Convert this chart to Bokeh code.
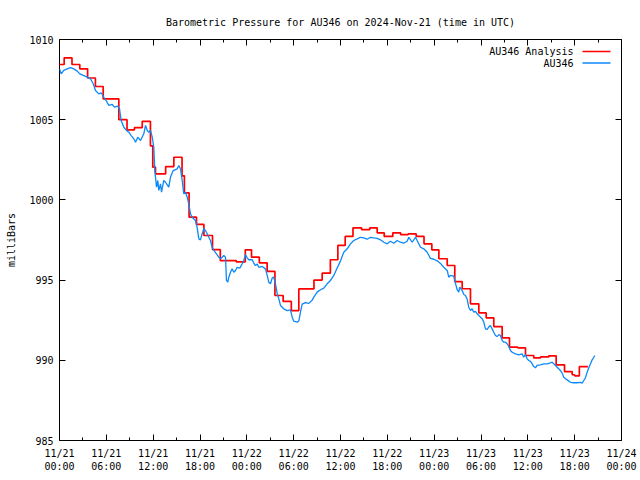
from bokeh.plotting import figure
from bokeh.models import Range1d, LinearAxis, FixedTicker, Label, Arrow
from bokeh.embed import file_html
from bokeh.resources import INLINE

FONT = "DejaVu Sans Mono"
TITLE = "Barometric Pressure for AU346 on 2024-Nov-21 (time in UTC)"

# x ticks: hours since 2024-11-21 00:00 UTC
x_ticks = [0, 6, 12, 18, 24, 30, 36, 42, 48, 54, 60, 66, 72]
x_minor = [3, 9, 15, 21, 27, 33, 39, 45, 51, 57, 63, 69]
x_tick_labels = ["11/21\n00:00", "11/21\n06:00", "11/21\n12:00", "11/21\n18:00",
                 "11/22\n00:00", "11/22\n06:00", "11/22\n12:00", "11/22\n18:00",
                 "11/23\n00:00", "11/23\n06:00", "11/23\n12:00", "11/23\n18:00",
                 "11/24\n00:00"]
y_ticks = [985, 990, 995, 1000, 1005, 1010]

# AU346 Analysis (step values, hours since 11/21 00:00)
ana_hours = [-0.4, 0.6, 1.6, 2.6, 3.6, 4.6, 5.6, 6.6, 7.6, 8.65, 9.6, 10.6, 11.65,
             11.95, 12.3, 13.6, 14.65, 15.7, 16.0, 16.6, 17.55, 18.5, 19.6, 20.6,
             21.6, 22.65, 23.8, 24.6, 25.6, 26.6, 27.6, 28.65, 29.7, 30.66, 31.6,
             32.6, 33.65, 34.7, 35.66, 36.6, 37.6, 38.7, 39.75, 40.7, 41.6, 42.7,
             43.7, 44.67, 45.7, 46.7, 47.7, 48.6, 49.67, 50.64, 51.59, 52.65, 53.72,
             54.66, 55.64, 56.71, 57.65, 58.71, 59.7, 60.76, 61.62, 62.68, 63.63,
             64.7, 65.68, 66.0, 66.6, 67.7]
ana_mb = [1008.44, 1008.86, 1008.44, 1008.17, 1007.6, 1007.07, 1006.3, 1006.3, 1005.0,
          1004.37, 1004.5, 1004.9, 1003.37, 1002.04, 1001.62, 1002.08, 1002.66, 1001.5,
          1000.44, 998.92, 998.47, 997.78, 996.9, 996.22, 996.22, 996.14, 996.89,
          996.43, 996.08, 995.54, 994.04, 993.67, 993.1, 994.45, 994.45, 995.0,
          995.43, 996.27, 997.16, 997.72, 998.26, 998.15, 998.26, 997.95, 997.72,
          997.95, 997.84, 997.88, 997.72, 997.26, 996.89, 996.33, 995.91, 994.91,
          994.46, 993.52, 992.96, 992.65, 992.1, 991.4, 990.82, 990.78, 990.3,
          990.15, 990.21, 990.28, 989.72, 989.3, 989.1, 989.03, 989.6, 989.6]

# AU346 observations
obs_hours = [0.0, 0.22, 0.55, 0.99, 1.41, 1.83, 2.27, 2.6, 3.04, 3.55, 3.97, 4.32,
             4.61, 5.03, 5.34, 5.68, 6.02, 6.32, 6.75, 7.05, 7.47, 7.69, 7.9, 8.24,
             8.58, 8.88, 9.19, 9.52, 9.74, 10.03, 10.38, 10.8, 11.02, 11.24, 11.44,
             11.66, 11.88, 12.08, 12.21, 12.43, 12.59, 12.72, 12.94, 13.07, 13.36,
             13.58, 14.0, 14.22, 14.57, 15.08, 15.28, 15.5, 15.72, 15.92, 16.14,
             16.36, 16.56, 16.78, 17.0, 17.42, 17.64, 17.85, 18.06, 18.28, 18.49,
             18.7, 18.92, 19.13, 19.34, 19.56, 19.77, 20.11, 20.41, 20.63, 20.84,
             21.05, 21.27, 21.39, 21.56, 21.69, 21.91, 22.12, 22.33, 22.55, 22.76,
             23.1, 23.41, 23.61, 23.83, 24.05, 24.25, 24.69, 24.89, 25.11, 25.33,
             25.53, 25.97, 26.39, 26.61, 26.81, 27.03, 27.25, 27.45, 27.67, 27.89,
             28.1, 28.31, 28.53, 28.73, 29.17, 29.59, 29.81, 30.02, 30.45, 30.66,
             30.87, 31.09, 31.52, 31.94, 32.37, 32.58, 33.01, 33.44, 33.86, 34.29,
             34.72, 35.14, 35.57, 36.0, 36.42, 36.86, 37.28, 37.7, 38.14, 38.56,
             38.98, 39.42, 39.84, 40.26, 40.7, 41.12, 41.55, 41.98, 42.4, 42.83,
             43.26, 43.68, 44.11, 44.54, 44.75, 45.18, 45.61, 45.82, 46.25, 46.67,
             47.1, 47.53, 47.95, 48.39, 48.81, 49.23, 49.67, 49.87, 50.09, 50.51,
             50.73, 50.95, 51.15, 51.28, 51.59, 51.8, 52.01, 52.23, 52.43, 52.65,
             52.86, 53.07, 53.29, 53.51, 53.93, 54.15, 54.36, 54.57, 54.79, 54.99,
             55.21, 55.43, 55.64, 55.85, 56.07, 56.28, 56.49, 56.71, 56.92, 57.13,
             57.35, 57.56, 57.77, 57.99, 58.41, 58.84, 59.27, 59.48, 59.7, 59.91,
             60.12, 60.34, 60.56, 60.76, 60.98, 61.19, 61.62, 62.04, 62.48, 62.9,
             63.12, 63.32, 63.54, 63.76, 64.18, 64.4, 64.6, 64.82, 65.04, 65.46,
             65.89, 66.32, 66.74, 66.96, 67.17, 67.38, 67.6, 67.81, 68.03, 68.24,
             68.45, 68.58]
obs_mb = [1008.17, 1007.86, 1008.07, 1008.17, 1008.24, 1008.17, 1008.03, 1007.86,
          1007.76, 1007.65, 1007.55, 1007.24, 1006.82, 1006.61, 1006.68, 1006.4,
          1006.15, 1005.89, 1005.95, 1005.78, 1005.84, 1005.68, 1004.95, 1004.53,
          1004.33, 1004.22, 1004.01, 1003.81, 1003.6, 1003.91, 1003.7, 1004.12,
          1004.64, 1004.33, 1004.22, 1004.33, 1003.91, 1003.29, 1001.83, 1000.79,
          1001.21, 1000.59, 1001.0, 1000.48, 1001.21, 1001.1, 1000.79, 1001.42,
          1001.83, 1001.94, 1002.14, 1001.94, 1001.21, 1000.38, 1000.48, 1000.17,
          999.76, 999.13, 998.92, 998.72, 998.26, 997.57, 997.51, 997.89, 998.2,
          998.09, 997.89, 997.67, 997.47, 997.05, 996.85, 996.64, 996.43, 996.33,
          996.43, 996.53, 996.43, 994.98, 994.87, 995.18, 995.49, 995.7, 995.49,
          995.6, 995.8, 995.75, 996.02, 996.22, 996.58, 996.39, 996.27, 996.27,
          996.06, 995.91, 996.0, 995.8, 995.85, 995.7, 995.29, 994.87, 994.77,
          995.14, 995.18, 994.77, 994.15, 993.83, 993.42, 993.31, 993.21, 993.1,
          993.15, 992.69, 992.44, 992.38, 992.45, 993.0, 993.5, 993.6, 993.55,
          993.75, 993.94, 994.25, 994.4, 994.5, 994.77, 994.98, 995.29, 995.75,
          996.2, 996.74, 996.95, 997.26, 997.47, 997.57, 997.67, 997.63, 997.55,
          997.67, 997.63, 997.6, 997.51, 997.36, 997.26, 997.42, 997.3, 997.47,
          997.36, 997.3, 997.42, 997.67, 997.36, 997.67, 997.47, 997.05, 996.95,
          996.74, 996.35, 996.3, 996.2, 996.04, 995.8, 995.6, 995.18, 995.29,
          995.25, 994.8, 994.4, 994.25, 994.56, 994.35, 994.1, 994.04, 993.8,
          993.31, 993.1, 993.21, 993.0, 993.05, 992.9, 992.69, 992.59, 992.38,
          991.96, 991.93, 992.07, 992.17, 991.96, 991.75, 991.55, 991.48, 991.6,
          991.55, 991.23, 991.13, 991.13, 991.03, 990.86, 990.61, 990.5, 990.4,
          990.34, 990.4, 990.19, 990.36, 990.09, 989.99, 989.93, 989.78, 989.61,
          989.53, 989.68, 989.72, 989.78, 989.78, 989.84, 989.88, 989.78, 989.68,
          989.57, 989.36, 989.2, 988.95, 988.85, 988.78, 988.63, 988.6, 988.6,
          988.62, 988.58, 988.74, 988.91, 989.26, 989.53, 989.78, 990.03, 990.19,
          990.3]

RED = "#ff0000"
BLUE = "#0c88f8"

p = figure(width=640, height=480, output_backend="svg", toolbar_location=None,
           x_range=Range1d(0, 72), y_range=Range1d(985, 1010), title=TITLE,
           min_border_left=59, min_border_right=19, min_border_top=39,
           min_border_bottom=40)
p.background_fill_color = "white"
p.border_fill_color = "white"
p.outline_line_color = "black"
p.outline_line_width = 1
p.grid.visible = False

p.title.text_font = FONT
p.title.text_font_size = "10px"
p.title.text_font_style = "normal"
p.title.text_color = "black"
p.title.align = "center"
p.title.standoff = 23

p.step(ana_hours, ana_mb, mode="after", line_color=RED, line_width=1.7)
p.line(obs_hours, obs_mb, line_color=BLUE, line_width=1.3)

def style(ax, labels=True):
    ax.axis_line_color = None
    ax.major_tick_in = 6
    ax.major_tick_out = 0
    ax.minor_tick_in = 3
    ax.minor_tick_out = 0
    ax.major_tick_line_color = "black"
    ax.minor_tick_line_color = "black"
    ax.major_label_text_font = FONT
    ax.major_label_text_font_size = "10px"
    ax.major_label_text_color = "black" if labels else None
    ax.major_label_standoff = 6 if labels else 0

xa = p.xaxis[0]
xa.ticker = FixedTicker(ticks=x_ticks, minor_ticks=x_minor)
xa.major_label_overrides = {t: lab for t, lab in zip(x_ticks, x_tick_labels)}
style(xa)
xa.major_label_standoff = 7

ya = p.yaxis[0]
ya.ticker = FixedTicker(ticks=y_ticks, minor_ticks=[])
style(ya)
ya.major_label_standoff = 6
ya.axis_label = "milliBars"
ya.axis_label_text_font = FONT
ya.axis_label_text_font_size = "10px"
ya.axis_label_text_font_style = "normal"
ya.axis_label_text_color = "black"
ya.axis_label_standoff = 9

top = LinearAxis(ticker=FixedTicker(ticks=x_ticks, minor_ticks=x_minor))
style(top, labels=False)
top.major_label_overrides = {t: "" for t in x_ticks}
p.add_layout(top, "above")
right = LinearAxis(ticker=FixedTicker(ticks=y_ticks, minor_ticks=[]))
style(right, labels=False)
right.major_label_overrides = {t: "" for t in y_ticks}
p.add_layout(right, "right")

# legend (gnuplot style: text then sample line)
legend_names = ["AU346 Analysis", "AU346"]
legend_colors = [RED, BLUE]
for i, (name, col) in enumerate(zip(legend_names, legend_colors)):
    yy = 389 - 11.5 * i
    p.add_layout(Label(x=514, y=yy, x_units="screen", y_units="screen", text=name,
                       text_font=FONT, text_font_size="10px", text_align="right",
                       text_baseline="middle", text_color="black"))
    p.add_layout(Arrow(x_start=523, y_start=yy, x_end=551, y_end=yy,
                       start_units="screen", end_units="screen", end=None,
                       line_color=col, line_width=1.7 if i == 0 else 1.3))

open("out.html", "w").write(file_html(p, INLINE))
